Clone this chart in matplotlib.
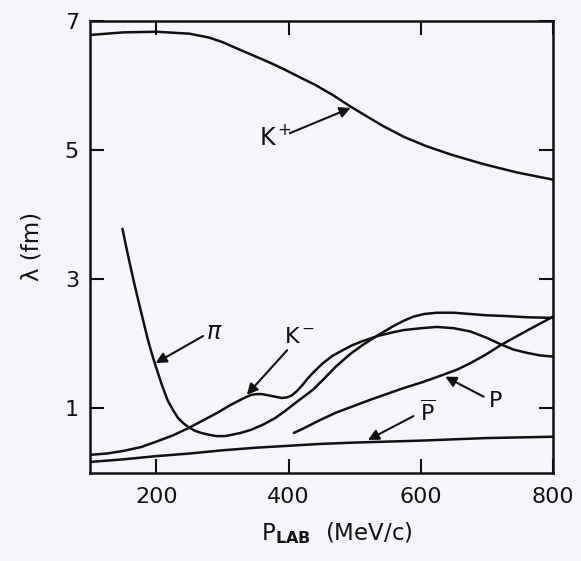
import matplotlib
matplotlib.use("Agg")
import matplotlib.pyplot as plt

plt.rcParams['font.family'] = ['DejaVu Sans']
plt.rcParams['mathtext.fontset'] = 'dejavusans'

# ---- data ----
kplus_x = [100, 150, 200, 250, 280, 300, 320, 345, 370, 395, 420, 440, 467, 494, 520, 543, 575, 608, 645, 695, 746, 800]
kplus_y = [6.78, 6.82, 6.83, 6.80, 6.74, 6.67, 6.58, 6.47, 6.36, 6.24, 6.11, 6.01, 5.85, 5.67, 5.51, 5.37, 5.20, 5.06, 4.93, 4.78, 4.65, 4.54]

pi_x = [149, 155, 161, 168, 176, 187, 193, 199, 208, 217, 225, 233, 241, 250, 259, 268, 280, 291, 303, 314, 328, 344, 362, 380, 395,
        410, 423, 436, 453, 471, 492, 512, 535, 558, 575, 589, 605, 624, 650, 675, 700, 726, 760, 800]
pi_y = [3.78, 3.48, 3.20, 2.88, 2.54, 2.08, 1.86, 1.66, 1.38, 1.13, 0.98, 0.85, 0.77, 0.70, 0.65, 0.62, 0.59, 0.57, 0.57, 0.59, 0.62, 0.67, 0.75, 0.85, 0.96,
        1.08, 1.18, 1.28, 1.45, 1.64, 1.83, 1.98, 2.13, 2.27, 2.36, 2.42, 2.46, 2.48, 2.48, 2.46, 2.44, 2.43, 2.41, 2.40]

kminus_x = [100, 125, 150, 177, 199, 225, 250, 272, 294, 312, 329, 337, 344, 352, 360, 370, 380, 390, 398, 405, 413, 421, 428, 436,
            451, 466, 482, 497, 512, 535, 555, 573, 600, 624, 650, 675, 700, 721, 740, 760, 780, 800]
kminus_y = [0.28, 0.30, 0.34, 0.40, 0.48, 0.58, 0.70, 0.82, 0.94, 1.05, 1.14, 1.18, 1.21, 1.22, 1.22, 1.20, 1.18, 1.16, 1.17, 1.20, 1.27, 1.36, 1.45, 1.54,
            1.69, 1.81, 1.90, 1.98, 2.04, 2.12, 2.17, 2.21, 2.24, 2.26, 2.24, 2.19, 2.09, 1.99, 1.91, 1.86, 1.82, 1.80]

p_x = [408, 421, 446, 471, 497, 523, 548, 573, 604, 634, 655, 675, 698, 721, 760, 800]
p_y = [0.62, 0.68, 0.81, 0.93, 1.03, 1.13, 1.22, 1.31, 1.41, 1.52, 1.60, 1.70, 1.83, 1.98, 2.20, 2.42]

pbar_x = [100, 150, 200, 250, 300, 350, 400, 450, 500, 600, 700, 800]
pbar_y = [0.17, 0.21, 0.26, 0.30, 0.35, 0.39, 0.42, 0.45, 0.47, 0.50, 0.54, 0.56]

x_ticks = [200, 400, 600, 800]
y_ticks = [1, 3, 5, 7]

# label text, position (left, baseline) and arrow (tail -> tip)
labels = [
    (r'K$^+$', 355, 5.08, (402, 5.26), (494, 5.65), 17),
    (r'$\pi$', 276, 2.07, (271, 2.12), (199, 1.70), 17),
    (r'K$^-$', 393, 2.01, (398, 1.90), (337, 1.21), 16),
    (r'P', 703, 1.02, (695, 1.18), (637, 1.49), 16),
    (r'$\overline{\mathrm{P}}$', 599, 0.80, (589, 0.88), (520, 0.51), 16),
]

bg = '#f6f6fa'
fig = plt.figure(figsize=(5.81, 5.61), dpi=100, facecolor=bg)
ax = fig.add_axes([0.155, 0.157, 0.797, 0.806], facecolor=bg)

lw = 1.8
for xs, ys in [(kplus_x, kplus_y), (pi_x, pi_y), (kminus_x, kminus_y), (p_x, p_y), (pbar_x, pbar_y)]:
    ax.plot(xs, ys, color='#111111', lw=lw, solid_capstyle='round', solid_joinstyle='round')

for txt, tx, ty, tail, tip, fs in labels:
    ax.text(tx, ty, txt, ha='left', va='baseline', fontsize=fs, color='#111111')
    ax.annotate('', xy=tip, xytext=tail,
                arrowprops=dict(arrowstyle='-|>', color='#111111', lw=1.5,
                                mutation_scale=16, shrinkA=0, shrinkB=0))

ax.set_xlim(100, 800)
ax.set_ylim(0, 7)
ax.set_xticks(x_ticks)
ax.set_yticks(y_ticks)
ax.set_xticklabels([str(v) for v in x_ticks])
ax.set_yticklabels([str(v) for v in y_ticks])
ax.tick_params(direction='in', top=True, right=True, length=10, width=1.5,
               labelsize=16, colors='#111111', pad=10)
ax.tick_params(axis='y', pad=8)
for s in ax.spines.values():
    s.set_linewidth(1.8)
    s.set_color('#111111')

ax.set_xlabel(r'P$_{\mathbf{LAB}}$  (MeV/c)', fontsize=16.5, color='#111111')
ax.xaxis.set_label_coords(0.533, -0.105)
ax.set_ylabel('λ (fm)', fontsize=16.5, color='#111111')
ax.yaxis.set_label_coords(-0.125, 0.5)
ax.yaxis.label.set_va('center')

fig.savefig('out.png', dpi=100, facecolor=bg)
